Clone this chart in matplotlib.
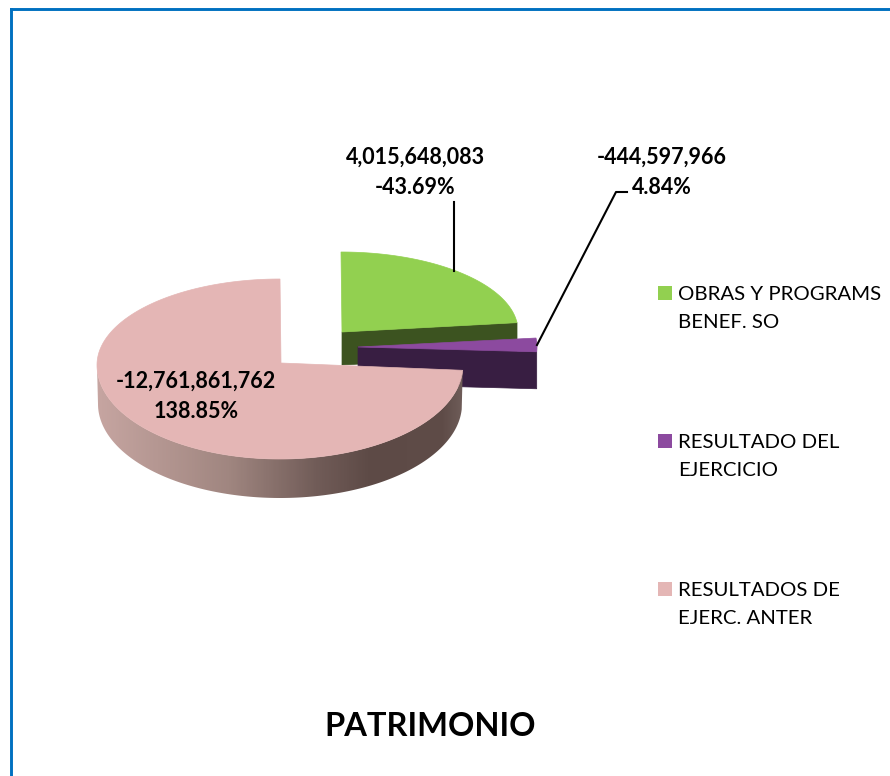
# -*- coding: utf-8 -*-
import numpy as np
import matplotlib
matplotlib.use("Agg")
import matplotlib.pyplot as plt
from matplotlib.colors import LinearSegmentedColormap
from matplotlib.patches import Polygon, Rectangle

plt.rcParams['font.family'] = ['Lato', 'DejaVu Sans']

# datos
categorias = ["OBRAS Y PROGRAMS\nBENEF. SO", "RESULTADO DEL\nEJERCICIO", "RESULTADOS DE\nEJERC. ANTER"]
valores = [4015648083, -444597966, -12761861762]
porcentajes = [-43.69, 4.84, 138.85]
titulo = "PATRIMONIO"

colores = ["#92d050", "#8c4a9f", "#e4b6b5"]
laterales = ["#3c5320", "#381e42"]

fig = plt.figure(figsize=(8.9, 7.76), dpi=100)
ax = fig.add_axes([0, 0, 1, 1])

# angulos de cada rebanada, en sentido horario desde las 12
abs_val = np.abs(valores)
cortes = np.concatenate([[0], np.cumsum(abs_val) / abs_val.sum() * 2 * np.pi])


def arco(cx, cy, rx, ry_arr, ry_ab, t0, t1, dy=0):
    # la mitad de atras sale mas chata, como en el grafico 3D original
    t = np.linspace(t0, t1, 200)
    c = np.cos(t)
    ry = np.where(c > 0, ry_arr, ry_ab)
    return np.column_stack([cx + rx * np.sin(t), cy - ry * c + dy])


def cara_corte(ax, punta, borde, prof, color, z):
    pts = [punta, borde, (borde[0], borde[1] + prof), (punta[0], punta[1] + prof)]
    ax.add_patch(Polygon(pts, closed=True, fc=color, ec=color, lw=0.5, zorder=z))


# rebanada verde
a_verde = arco(341, 331, 177, 79, 79, cortes[0], cortes[1])
cara_corte(ax, (342, 332), tuple(a_verde[-1]), 33, laterales[0], 2)
ax.add_patch(Polygon(np.vstack([[(342, 332)], a_verde]), closed=True, fc=colores[0], ec=colores[0], lw=0.5, zorder=3))

# rebanada morada
a_morado = arco(358, 347, 179, 85, 85, cortes[1], cortes[2])
cara_corte(ax, (358, 347), tuple(a_morado[-1]), 37, laterales[1], 4)
ax.add_patch(Polygon(np.vstack([[(358, 347)], a_morado]), closed=True, fc=colores[1], ec=colores[1], lw=0.5, zorder=5))

# rebanada rosa, con el lateral degradado
arr = arco(280, 365, 183, 86, 94, cortes[2], 1.5 * np.pi)
aba = arco(280, 365, 182, 86, 94, cortes[2], 1.5 * np.pi, dy=39)
lado = Polygon(np.vstack([arr, aba[::-1]]), closed=True, transform=ax.transData, fc="none", ec="none")
ax.add_patch(lado)
cmap = LinearSegmentedColormap.from_list("lado", [(0, "#c6a5a1"), (0.36, "#a08680"), (0.6, "#715c58"),
                                                  (0.75, "#5d4a46"), (0.95, "#5f4c48"), (1, "#6e5c58")])
img = ax.imshow(np.linspace(0, 1, 300).reshape(1, -1), cmap=cmap, extent=(97, 463, 500, 360), aspect="auto", zorder=6)
img.set_clip_path(lado)
a_rosa = arco(280, 365, 183, 86, 94, cortes[2], cortes[3])
ax.add_patch(Polygon(np.vstack([[(281, 363)], a_rosa]), closed=True, fc=colores[2], ec=colores[2], lw=0.5, zorder=7))

# lineas guia
ax.plot([454, 454], [202, 271], color="black", lw=1.5, zorder=8)
ax.plot([537, 616, 627], [345, 192, 192], color="black", lw=1.5, zorder=8)

# etiquetas
etiq = [f"{v:,}\n{p:.2f}%" for v, p in zip(valores, porcentajes)]
pos_etiq = [(415, 172.5), (662, 172.5), (196, 396)]
for (x, y), s in zip(pos_etiq, etiq):
    ax.text(x, y, s, ha="center", va="center", fontsize=15.5, fontweight="bold", linespacing=1.54, color="black", zorder=9)

# leyenda
pos_ley = [293, 441, 589]
for y, s, c in zip(pos_ley, categorias, colores):
    ax.add_patch(Rectangle((658, y - 7), 14, 14, fc=c, ec="none"))
    ax.text(678, y + 15.5, s, ha="left", va="center", fontsize=14.7, linespacing=1.85, color="black")

ax.text(430, 726, titulo, ha="center", va="center", fontsize=23.5, fontweight="bold", color="black")

# marco azul
ax.plot([11.2, 11.2], [776, 9], color="#0070c0", lw=2.1, solid_capstyle="projecting", zorder=1)
ax.plot([11.2, 890], [9, 9], color="#0070c0", lw=2.1, solid_capstyle="projecting", zorder=1)

ax.set_xlim(0, 890)
ax.set_ylim(776, 0)
ax.axis("off")
fig.savefig("out.png", dpi=100, facecolor="white")
